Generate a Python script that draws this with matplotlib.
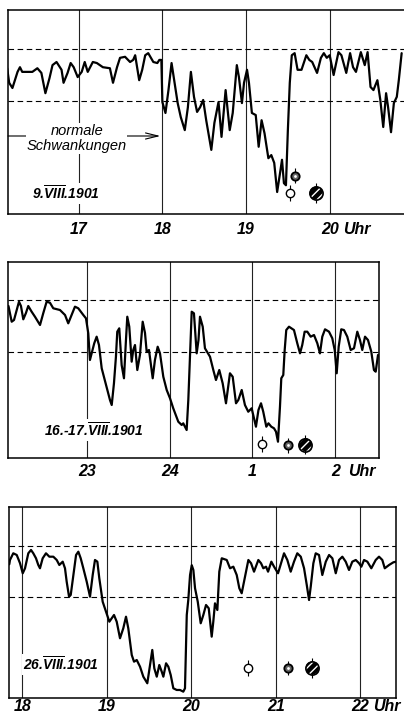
import numpy as np
import matplotlib
matplotlib.use("Agg")
import matplotlib.pyplot as plt

plt.rcParams['font.family'] = ['Liberation Sans', 'DejaVu Sans']
plt.rcParams['mathtext.fontset'] = 'custom'
plt.rcParams['mathtext.it'] = 'Liberation Sans:italic:bold'
plt.rcParams['mathtext.rm'] = 'Liberation Sans:bold'
plt.rcParams['mathtext.bf'] = 'Liberation Sans:bold'
plt.rcParams['hatch.color'] = 'white'
plt.rcParams['hatch.linewidth'] = 1.0

# ---------------- data (time in hours, brightness relative to the normal band: 0 .. 1) ----------
t1 = [16.145, 16.169, 16.208, 16.269, 16.298, 16.325, 16.446, 16.506, 16.554, 16.602,
      16.651, 16.687, 16.735, 16.795, 16.819, 16.867, 16.904, 16.94, 16.988, 17.036,
      17.072, 17.108, 17.169, 17.217, 17.289, 17.373, 17.41, 17.458, 17.494, 17.554,
      17.614, 17.651, 17.675, 17.723, 17.759, 17.795, 17.831, 17.892, 17.94, 17.964,
      17.988, 18.0, 18.037, 18.073, 18.11, 18.146, 18.183, 18.22, 18.268, 18.305,
      18.341, 18.378, 18.415, 18.451, 18.488, 18.524, 18.585, 18.622, 18.671, 18.707,
      18.756, 18.805, 18.841, 18.89, 18.915, 18.951, 18.976, 19.012, 19.035, 19.07,
      19.116, 19.151, 19.186, 19.221, 19.267, 19.302, 19.337, 19.372, 19.407, 19.43,
      19.453, 19.477, 19.5, 19.523, 19.547, 19.581, 19.616, 19.663, 19.721, 19.756,
      19.791, 19.849, 19.895, 19.93, 19.965, 20.0, 20.047, 20.105, 20.14, 20.198,
      20.244, 20.279, 20.314, 20.372, 20.419, 20.453, 20.488, 20.523, 20.57, 20.605,
      20.64, 20.674, 20.698, 20.733, 20.767, 20.802, 20.826, 20.86]
v1 = [0.63, 0.35, 0.25, 0.56, 0.65, 0.56, 0.56, 0.63, 0.54, 0.15,
      0.44, 0.69, 0.75, 0.60, 0.35, 0.54, 0.73, 0.65, 0.46, 0.56,
      0.75, 0.56, 0.75, 0.73, 0.65, 0.63, 0.35, 0.65, 0.83, 0.85,
      0.75, 0.79, 0.88, 0.40, 0.60, 0.88, 0.92, 0.75, 0.73, 0.79,
      0.79, -0.02, -0.23, 0.21, 0.73, 0.35, -0.04, -0.31, -0.56, -0.12,
      0.56, 0.08, -0.21, -0.12, 0.02, -0.37, -0.94, -0.42, -0.02, -0.69,
      0.21, -0.56, -0.23, 0.69, 0.46, -0.04, 0.35, 0.60, 0.35, -0.23,
      -0.27, -0.88, -0.37, -0.62, -1.10, -1.04, -1.19, -1.75, -1.38, -1.13,
      -1.58, -1.62, -0.56, 0.35, 0.88, 0.92, 0.60, 0.60, 0.88, 0.79,
      0.75, 0.54, 0.83, 0.92, 0.83, 0.88, 0.50, 0.94, 0.88, 0.54,
      0.92, 0.65, 0.56, 0.94, 0.69, 0.94, 0.27, 0.21, 0.40, 0.02,
      -0.50, 0.15, -0.12, -0.60, -0.04, 0.08, 0.40, 0.92]

t2 = [22.053, 22.092, 22.12, 22.152, 22.18, 22.204, 22.232, 22.264, 22.292, 22.333,
      22.373, 22.434, 22.473, 22.514, 22.554, 22.594, 22.675, 22.736, 22.775, 22.816,
      22.856, 22.896, 22.957, 22.989, 23.017, 23.037, 23.058, 23.089, 23.118, 23.146,
      23.179, 23.231, 23.279, 23.3, 23.327, 23.351, 23.367, 23.391, 23.42, 23.448,
      23.472, 23.488, 23.512, 23.541, 23.56, 23.581, 23.609, 23.641, 23.674, 23.702,
      23.722, 23.75, 23.795, 23.822, 23.855, 23.883, 23.923, 23.964, 24.004, 24.043,
      24.104, 24.145, 24.164, 24.205, 24.225, 24.245, 24.266, 24.293, 24.326, 24.348,
      24.366, 24.399, 24.426, 24.487, 24.527, 24.559, 24.599, 24.64, 24.68, 24.728,
      24.761, 24.801, 24.829, 24.87, 24.909, 24.949, 24.99, 25.042, 25.072, 25.103,
      25.13, 25.167, 25.193, 25.227, 25.26, 25.284, 25.308, 25.332, 25.348, 25.372,
      25.389, 25.408, 25.441, 25.501, 25.541, 25.574, 25.601, 25.63, 25.662, 25.703,
      25.743, 25.783, 25.815, 25.843, 25.876, 25.924, 25.964, 25.993, 26.017, 26.041,
      26.072, 26.105, 26.145, 26.186, 26.226, 26.266, 26.298, 26.326, 26.359, 26.395,
      26.435, 26.467, 26.488, 26.516]
v2 = [0.875, 0.573, 0.606, 0.798, 0.958, 0.875, 0.619, 0.74, 0.875, 0.765,
      0.669, 0.51, 0.735, 0.958, 0.938, 0.831, 0.798, 0.702, 0.542, 0.702,
      0.862, 0.831, 0.702, 0.638, 0.35, -0.163, -0.035, 0.158, 0.285, 0.125,
      -0.323, -0.644, -0.933, -1.029, -0.612, -0.1, 0.381, 0.446, -0.26, -0.515,
      0.221, 0.669, 0.477, -0.196, 0.029, 0.125, -0.356, -0.067, 0.573, 0.356,
      -0.004, 0.029, -0.515, -0.163, 0.092, -0.035, -0.485, -0.74, -0.9, -1.092,
      -1.35, -1.413, -1.381, -1.51, -0.933, -0.1, 0.765, 0.735, -0.035, 0.221,
      0.669, 0.477, 0.062, -0.1, -0.356, -0.548, -0.356, -0.612, -0.996, -0.419,
      -0.485, -0.996, -0.933, -0.74, -1.029, -1.158, -1.092, -1.446, -1.125, -0.996,
      -1.158, -1.446, -1.381, -1.446, -1.477, -1.542, -1.735, -1.062, -0.515, -0.452,
      0.029, 0.413, 0.477, 0.413, 0.158, -0.035, 0.125, 0.381, 0.381, 0.285,
      0.317, 0.158, -0.035, 0.285, 0.427, 0.381, 0.254, 0.029, -0.419, 0.092,
      0.427, 0.413, 0.285, 0.029, 0.062, 0.381, 0.221, 0.029, 0.285, 0.221,
      -0.004, -0.356, -0.388, -0.067]

t3 = [17.846, 17.854, 17.893, 17.934, 17.973, 18.005, 18.032, 18.071, 18.103, 18.13,
      18.162, 18.189, 18.209, 18.241, 18.28, 18.32, 18.367, 18.407, 18.438, 18.478,
      18.505, 18.525, 18.553, 18.573, 18.604, 18.636, 18.663, 18.691, 18.722, 18.762,
      18.801, 18.833, 18.86, 18.888, 18.911, 18.951, 18.991, 19.03, 19.058, 19.085,
      19.117, 19.156, 19.195, 19.227, 19.254, 19.295, 19.322, 19.354, 19.393, 19.432,
      19.479, 19.511, 19.538, 19.562, 19.591, 19.621, 19.65, 19.669, 19.701, 19.728,
      19.756, 19.787, 19.827, 19.866, 19.905, 19.925, 19.946, 19.964, 19.985, 20.005,
      20.024, 20.044, 20.076, 20.111, 20.142, 20.174, 20.206, 20.241, 20.26, 20.28,
      20.308, 20.331, 20.36, 20.419, 20.458, 20.497, 20.537, 20.568, 20.596, 20.636,
      20.675, 20.707, 20.742, 20.793, 20.825, 20.852, 20.884, 20.908, 20.947, 20.979,
      21.026, 21.062, 21.097, 21.136, 21.176, 21.215, 21.254, 21.295, 21.334, 21.366,
      21.393, 21.413, 21.444, 21.472, 21.511, 21.55, 21.591, 21.63, 21.669, 21.709,
      21.748, 21.787, 21.827, 21.866, 21.905, 21.946, 21.985, 22.012, 22.044, 22.083,
      22.13, 22.182, 22.221, 22.26, 22.289, 22.34, 22.391, 22.422]
v3 = [0.645, 0.728, 0.858, 0.825, 0.664, 0.47, 0.567, 0.858, 0.922, 0.858,
      0.761, 0.631, 0.567, 0.761, 0.858, 0.792, 0.792, 0.728, 0.631, 0.695,
      0.567, 0.307, 0.016, 0.049, 0.437, 0.825, 0.889, 0.761, 0.567, 0.307,
      0.016, 0.437, 0.728, 0.695, 0.373, -0.082, -0.276, -0.47, -0.404, -0.34,
      -0.47, -0.792, -0.598, -0.373, -0.598, -1.117, -1.247, -1.214, -1.344, -1.538,
      -1.666, -1.311, -1.019, -1.375, -1.538, -1.311, -1.441, -1.538, -1.278, -1.344,
      -1.505, -1.763, -1.796, -1.796, -1.829, -1.763, -0.34, -0.049, 0.437, 0.627,
      0.534, 0.179, -0.082, -0.501, -0.34, -0.146, -0.21, -0.761, -0.47, -0.113,
      -0.243, 0.501, 0.761, 0.728, 0.567, 0.598, 0.437, 0.179, 0.082, 0.404,
      0.728, 0.664, 0.501, 0.728, 0.664, 0.567, 0.598, 0.501, 0.695, 0.598,
      0.47, 0.664, 0.858, 0.728, 0.501, 0.695, 0.858, 0.792, 0.567, 0.243,
      -0.049, 0.21, 0.664, 0.858, 0.825, 0.437, 0.695, 0.825, 0.761, 0.47,
      0.728, 0.792, 0.695, 0.534, 0.695, 0.728, 0.664, 0.598, 0.728, 0.695,
      0.567, 0.728, 0.792, 0.728, 0.567, 0.631, 0.683, 0.695]

# hour ticks and labels
ticks1 = [17, 18, 19, 20]
labels1 = ['17', '18', '19', '20']
ticks2 = [23, 24, 25, 26]
labels2 = ['23', '24', '1', '2']
ticks3 = [18, 19, 20, 21, 22]
labels3 = ['18', '19', '20', '21', '22']

# dates (Roman month numeral with a bar over it)
date1 = r'9.$\overline{VIII}$.1901'
date2 = r'16.-17.$\overline{VIII}$.1901'
date3 = r'26.$\overline{VIII}$.1901'

# event symbols (open sun, partly covered, fully covered)
ev1_t = [19.523, 19.581, 19.837]
ev1_v = [-1.77, -1.44, -1.77]
ev2_t = [25.111, 25.432, 25.638]
ev2_v = [-1.785, -1.80, -1.79]
ev3_t = [20.675, 21.147, 21.432]
ev3_v = [-1.363, -1.369, -1.369]

# ---------------- figure ----------------
W, H = 404, 715
fig = plt.figure(figsize=(W / 100, H / 100), dpi=100)


def add_ax(l, r, t, b):
    return fig.add_axes([l / W, 1 - b / H, (r - l) / W, (b - t) / H])


TICK_SIZE = 11.5


def draw_panel(ax, t, v, xlim, ylim, ticks, labels, pad, date, date_xy, et, ev,
               right_spine=True):
    ax.set_xlim(*xlim)
    ax.set_ylim(*ylim)
    for s in ax.spines.values():
        s.set_linewidth(1.1)
    if not right_spine:
        ax.spines['right'].set_visible(False)
    ax.set_yticks([])
    ax.set_xticks(ticks, labels)
    ax.tick_params(axis='x', length=0, pad=pad)
    for lab in ax.get_xticklabels():
        lab.set_fontstyle('italic')
        lab.set_fontweight('bold')
        lab.set_fontsize(TICK_SIZE)
    for h in ticks:
        ax.axvline(h, color='#222222', lw=0.8, zorder=1)
    for y in (0.0, 1.0):
        ax.axhline(y, color='black', lw=0.8, ls=(0, (5, 3.2)), zorder=1)
    ax.plot(t, v, color='black', lw=1.6, solid_joinstyle='round',
            solid_capstyle='round', zorder=3)
    ax.annotate('Uhr', xy=(ticks[-1], 0), xycoords=('data', 'axes fraction'),
                xytext=(9.5, -pad), textcoords='offset points', va='top', ha='left',
                fontstyle='italic', fontweight='bold', fontsize=TICK_SIZE,
                annotation_clip=False)
    ax.text(date_xy[0], date_xy[1], date, ha='center', va='center', fontsize=10,
            fontstyle='italic', fontweight='bold', zorder=5,
            bbox=dict(facecolor='white', edgecolor='none', pad=1.0))
    # event symbols with their vertical strokes
    bars = np.array([0.155, 0.145, 0.19])
    ax.vlines(et, np.array(ev) - bars, np.array(ev) + bars, colors='black', lw=0.8, zorder=4)
    ax.plot(et[0], ev[0], 'o', ms=6, mfc='white', mec='black', mew=1.0, zorder=5)
    ax.plot(et[1], ev[1], 'o', ms=6, mfc='#666666', mec='black', mew=1.3, zorder=5)
    ax.plot(et[1], ev[1], 'o', ms=2, mfc='white', mec='none', zorder=6)
    ax.scatter([et[2]], [ev[2]], s=90, facecolors='black', edgecolors='white',
               hatch='////', linewidths=0, zorder=5)
    ax.plot(et[2], ev[2], 'o', ms=9.5, mfc='none', mec='black', mew=1.2, zorder=6)


ax1 = add_ax(8, 406, 10, 214)
draw_panel(ax1, t1, v1, (16.155, 20.912), (-2.173, 1.75), ticks1, labels1, 5.5,
           date1, (16.843, -1.77), ev1_t, ev1_v, right_spine=False)
ax1.annotate('', xy=(17.976, -0.673), xytext=(16.155, -0.673),
             arrowprops=dict(arrowstyle='->,head_length=0.9,head_width=0.22', lw=0.8,
                             color='black', shrinkA=0, shrinkB=0), zorder=2)
ax1.text(16.976, -0.72, 'normale\nSchwankungen', ha='center', va='center', fontsize=10.5,
         fontstyle='italic', linespacing=1.15, zorder=5,
         bbox=dict(facecolor='white', edgecolor='none', pad=0.5))

ax2 = add_ax(8.3, 379, 261.7, 458)
draw_panel(ax2, t2, v2, (22.051, 26.528), (-2.048, 1.727), ticks2, labels2, 4.5,
           date2, (23.086, -1.51), ev2_t, ev2_v)

ax3 = add_ax(9.3, 396, 507.3, 697.7)
draw_panel(ax3, t3, v3, (17.846, 22.422), (-1.946, 1.751), ticks3, labels3, 1.0,
           date3, (18.458, -1.297), ev3_t, ev3_v)

fig.savefig('out.png', dpi=100)
